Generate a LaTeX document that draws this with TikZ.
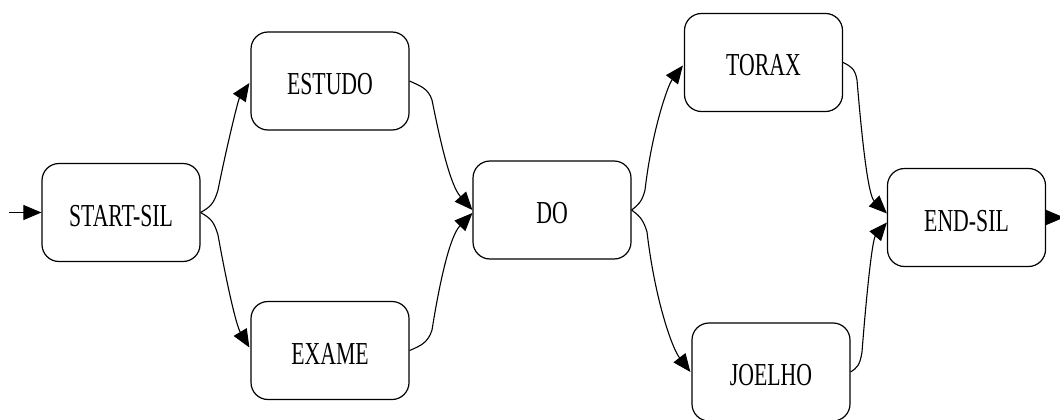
\documentclass[tikz,border=0pt]{standalone}
\usepackage{fontspec}
\usetikzlibrary{arrows.meta,calc}
\newfontfamily\statefont[FakeStretch=0.68]{Liberation Serif}
\begin{document}
\begin{tikzpicture}[x=1pt,y=-1pt,
  statebox/.style={draw, line width=1.2pt, rounded corners=17pt,
    minimum width=158pt, minimum height=98pt, inner sep=0pt,
    text height=27pt, text depth=0pt,
    font=\statefont\fontsize{32pt}{33pt}\selectfont},
  edge/.style={line width=1.1pt, -{Triangle[length=18pt,width=15pt]}}]
\useasboundingbox (0,0) rectangle (1060,420);

% states
\node[statebox] (start)  at (121,212.5) {START-SIL};
\node[statebox] (estudo) at (330,81)    {ESTUDO};
\node[statebox] (exame)  at (330,350.5) {EXAME};
\node[statebox] (do)     at (552,210)   {DO};
\node[statebox] (torax)  at (763.5,62.5) {TORAX};
\node[statebox] (joelho) at (771,372)   {JOELHO};
\node[statebox] (end)    at (966.5,217.5) {END-SIL};

% entry and exit
\coordinate (in)  at (9,212.5);
\coordinate (out) at (1064,217.5);
\draw[edge] (in) -- (start.west);
\draw[edge] (end.east) -- (out);

% transitions
\draw[edge] (start.east) .. controls (210,207) and (214,204) .. (218,190)
  .. controls (226,150) and (238,100) .. ($(estudo.west)+(-1,2)$);
\draw[edge] (start.east) .. controls (210,218) and (214,221) .. (218,235)
  .. controls (226,280) and (236,325) .. ($(exame.west)+(-1,-3)$);

\draw[edge] (estudo.east) .. controls (420,86) and (428,88) .. (432,100)
  .. controls (440,140) and (450,185) .. (do.west);
\draw[edge] (exame.east) .. controls (420,346) and (428,343) .. (432,330)
  .. controls (440,280) and (450,236) .. ($(do.west)+(0,3)$);

\draw[edge] (do.east) .. controls (638,205) and (642,202) .. (645,190)
  .. controls (652,130) and (668,85) .. ($(torax.west)+(-1,3)$);
\draw[edge] (do.east) .. controls (638,215) and (643,218) .. (647,232)
  .. controls (655,300) and (672,348) .. ($(joelho.west)+(-1,0)$);

\draw[edge] (torax.east) .. controls (850,66) and (855,68) .. (857,80)
  .. controls (862,140) and (868,195) .. ($(end.west)+(0,-4)$);
\draw[edge] (joelho.east) .. controls (857,368) and (860,365) .. (862,352)
  .. controls (866,300) and (872,240) .. ($(end.west)+(0,5)$);
\end{tikzpicture}
\end{document}
